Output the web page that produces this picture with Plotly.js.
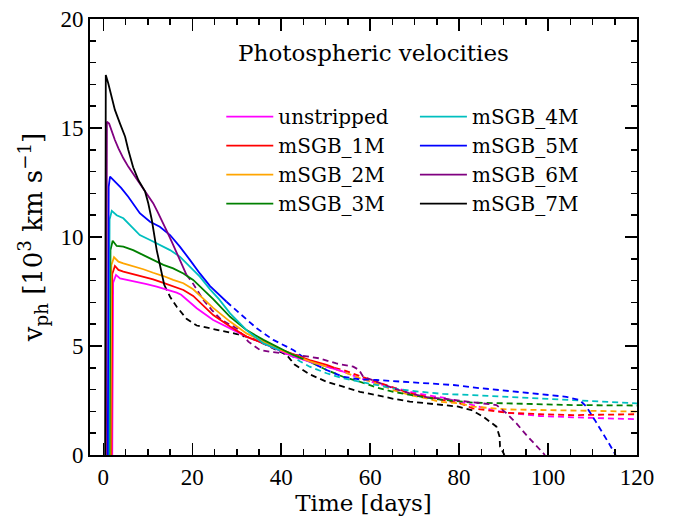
<!DOCTYPE html>
<html>
<head>
<meta charset="utf-8">
<script src="https://cdn.plot.ly/plotly-3.0.1.min.js"></script>
<style>html,body{margin:0;padding:0;background:#fff;}#chart{width:673px;height:521px;}</style>
</head>
<body>
<div id="chart"></div>
<script>
// Model names and colours
const names = ["unstripped","mSGB_1M","mSGB_2M","mSGB_3M","mSGB_4M","mSGB_5M","mSGB_6M","mSGB_7M"];
const colors = ["#ff00ff","#ff0000","#ffa500","#008000","#00bfbf","#0000ff","#800080","#000000"];

// Solid (photosphere) parts
const unstrippedX = [2.0,2.2,2.85,3.75,5.3,7.5,9.75,12.0,14.2,16.5,17.5,19.0,21.0,24.7,28.5,32.2,36.0,39.0,42.7,46.4,50.2,54.0];
const unstrippedY = [0,7.9,8.26,8.1,8.03,7.95,7.84,7.72,7.6,7.45,7.35,7.1,6.73,6.19,5.81,5.43,5.12,4.85,4.51,4.28,4.05,3.82];
const m1X = [1.8,2.0,2.6,3.4,4.5,6.7,9.0,11.2,13.5,15.7,18.0,20.2,22.5,24.7,28.5,32.2,36.0,39.0,42.7,46.4,50.2,52.0];
const m1Y = [0,8.3,8.67,8.49,8.41,8.3,8.18,8.06,7.9,7.75,7.57,7.3,6.85,6.42,5.89,5.43,5.12,4.89,4.6,4.35,4.13,4.0];
const m2X = [1.6,1.8,2.4,3.4,4.5,6.7,9.0,11.2,13.5,15.7,18.0,20.2,22.5,24.7,28.5,32.2,36.0,39.0,42.7,46.4,50.2];
const m2Y = [0,8.7,9.07,8.87,8.79,8.67,8.52,8.36,8.21,8.03,7.88,7.6,7.15,6.75,6.12,5.58,5.2,4.89,4.59,4.3,4.05];
const m3X = [1.4,1.6,2.1,3.0,4.5,6.7,9.0,11.2,13.5,15.7,18.0,20.2,22.5,24.7,28.5,32.2,36.0,39.0,42.7,45.0];
const m3Y = [0,9.4,9.83,9.59,9.56,9.4,9.17,8.94,8.72,8.56,8.33,8.03,7.6,7.15,6.34,5.73,5.28,4.97,4.59,4.4];
const m4X = [1.2,1.4,1.9,3.0,4.5,6.0,8.2,10.5,12.7,15.0,17.2,19.5,21.7,24.0,26.0,28.5,32.2,36.0,39.7];
const m4Y = [0,10.8,11.2,11.0,10.86,10.55,10.09,9.86,9.63,9.4,9.1,8.64,8.18,7.6,7.15,6.5,5.73,5.12,4.8];
const m5X = [1.0,1.2,1.5,2.6,4.0,5.6,7.1,8.2,10.5,12.7,15.0,17.2,19.5,21.7,24.0,27.7];
const m5Y = [0,12.3,12.77,12.54,12.25,11.85,11.39,11.09,10.7,10.47,10.09,9.56,8.94,8.33,7.75,7.03];
const m6X = [0.6,0.8,1.3,1.9,2.6,3.4,4.5,5.6,7.1,8.6,10.1,11.2,12.2,13.2,14.2,15.4,16.5,17.6,18.7];
const m6Y = [0,15.29,15.2,14.83,14.45,14.07,13.61,13.23,12.77,12.31,11.9,11.55,11.15,10.75,10.3,9.78,9.25,8.75,8.26];
const m7X = [0.4,0.55,1.1,1.9,2.6,3.75,4.9,5.6,6.7,7.9,9.4,10.1,10.9,12.0,13.1,13.7];
const m7Y = [0,17.43,17.05,16.44,15.83,15.2,14.6,14.0,13.2,12.6,12.08,11.55,10.78,9.4,8.33,7.8];

// Dashed (later) parts
const unstrippedDX = [54.0,57.7,61.4,65.2,68.9,72.7,76.4,83.1,87.6,90.7,98.1,105.6,113.1,120];
const unstrippedDY = [3.82,3.52,3.29,3.1,2.9,2.75,2.63,2.29,2.06,1.94,1.79,1.73,1.68,1.64];
const m1DX = [52.0,53.9,57.7,61.4,65.2,68.9,72.7,76.4,80.2,83.1,90.7,98.1,105.6,120];
const m1DY = [4.0,3.9,3.62,3.36,3.06,2.83,2.67,2.52,2.37,2.14,1.94,1.87,1.83,1.87];
const m2DX = [50.2,53.9,57.7,61.4,65.2,68.9,72.7,75.7,80.2,83.1,90.7,98.1,105.6,120];
const m2DY = [4.05,3.82,3.52,3.29,2.98,2.75,2.6,2.44,2.37,2.22,2.09,2.06,2.02,1.99];
const m3DX = [45.0,46.4,50.2,53.9,57.7,61.4,65.2,68.9,72.7,76.4,83.1,90.7,98.1,105.6,120];
const m3DY = [4.4,4.28,3.9,3.59,3.36,3.1,2.9,2.75,2.63,2.53,2.4,2.37,2.32,2.29,2.27];
const m4DX = [39.7,42.7,44.2,46.4,50.2,53.9,57.7,61.4,65.2,68.9,72.7,76.4,83.1,90.7,98.1,105.6,113.1,120];
const m4DY = [4.8,4.5,4.3,4.05,3.75,3.52,3.36,3.21,3.06,2.95,2.86,2.8,2.75,2.67,2.6,2.52,2.44,2.37];
const m5DX = [27.7,30.7,34.5,38.2,41.0,42.7,46.4,50.2,53.9,57.7,61.4,65.2,68.9,72.7,78.7,83.1,90.7,98.1,104.1,107.1,108.6,110.5,112.4,113.9,115.2];
const m5DY = [7.03,6.5,5.81,5.28,5.0,4.82,4.28,3.9,3.59,3.47,3.44,3.39,3.33,3.29,3.21,3.1,2.95,2.8,2.67,2.52,2.22,1.61,1.0,0.46,0];
const m6DX = [18.7,19.9,22.5,24.4,26.6,30.0,32.6,34.1,35.2,37.5,41.2,44.9,48.7,52.4,56.2,57.5,58.4,61.4,65.2,68.9,72.7,76.8,83.1,88.4,90.7,92.9,95.1,98.1,99.3];
const m6DY = [8.26,7.95,7.11,6.65,6.19,5.81,5.2,4.97,4.82,4.74,4.66,4.55,4.43,4.2,4.05,3.9,3.6,3.36,3.06,2.83,2.65,2.58,2.44,2.29,1.91,1.45,0.92,0.23,0];
const m7DX = [13.7,15.0,16.5,18.7,21.0,25.5,30.0,33.7,37.5,41.2,43.0,46.4,50.2,54.0,57.7,61.4,65.2,68.9,72.7,76.4,79.8,82.8,85.4,88.4,89.1,89.2,89.9,90.2];
const m7DY = [7.8,7.26,6.8,6.25,5.94,5.74,5.55,5.33,4.97,4.6,4.15,3.7,3.36,3.13,2.9,2.75,2.58,2.45,2.37,2.29,2.22,2.06,1.76,1.3,0.84,0.38,0.15,0];

const solidX = [unstrippedX,m1X,m2X,m3X,m4X,m5X,m6X,m7X];
const solidY = [unstrippedY,m1Y,m2Y,m3Y,m4Y,m5Y,m6Y,m7Y];
const dashX = [unstrippedDX,m1DX,m2DX,m3DX,m4DX,m5DX,m6DX,m7DX];
const dashY = [unstrippedDY,m1DY,m2DY,m3DY,m4DY,m5DY,m6DY,m7DY];

const FONT = "DejaVu Serif, serif";
const TICKFONT = "Liberation Serif, serif";
const traces = [];
for (let i = 0; i < names.length; i++) {
  traces.push({
    x: dashX[i], y: dashY[i], mode: 'lines', type: 'scatter',
    line: {color: colors[i], width: 1.8, dash: '6px,4px'},
    showlegend: false, hoverinfo: 'skip'
  });
}
for (let i = 0; i < names.length; i++) {
  traces.push({
    x: solidX[i], y: solidY[i], mode: 'lines', type: 'scatter', name: names[i],
    line: {color: colors[i], width: 1.8},
    legend: i < 4 ? 'legend' : 'legend2'
  });
}

const axisCommon = {
  showline: true, linewidth: 2, linecolor: '#000', mirror: 'ticks',
  ticks: 'inside', ticklen: 12, tickwidth: 1.5, tickcolor: '#000',
  showgrid: false, zeroline: false,
  tickfont: {family: TICKFONT, size: 23, color: '#000'}
};

const legendCommon = {xanchor: 'left', yanchor: 'top', bgcolor: 'rgba(0,0,0,0)',
  font: {family: FONT, size: 20, color: '#000'}, itemwidth: 47, tracegroupgap: 0};

const layout = {
  width: 673, height: 521,
  margin: {l: 90, r: 36, t: 19, b: 66},
  paper_bgcolor: '#fff', plot_bgcolor: '#fff',
  font: {family: FONT, color: '#000'},
  title: {text: 'Photospheric velocities', font: {family: FONT, size: 23, color: '#000'},
          x: 0.555, xanchor: 'center', y: 0.898, yanchor: 'middle'},
  xaxis: Object.assign({}, axisCommon, {
    range: [-3, 120], dtick: 20, tick0: 0,
    minor: {dtick: 5, ticks: 'inside', ticklen: 6, tickwidth: 1.5, tickcolor: '#000', showgrid: false},
    title: {text: 'Time [days]', font: {family: FONT, size: 23, color: '#000'}, standoff: 4}
  }),
  yaxis: Object.assign({}, axisCommon, {
    range: [0, 20], dtick: 5, tick0: 0,
    minor: {dtick: 1, ticks: 'inside', ticklen: 6, tickwidth: 1.5, tickcolor: '#000', showgrid: false},
    title: {text: 'v<sub>ph</sub> [10<sup>3</sup> km s<sup>\u22121</sup>]', font: {family: FONT, size: 26, color: '#000'}, standoff: 10}
  }),
  legend: Object.assign({}, legendCommon, {x: 0.24, y: 0.821}),
  legend2: Object.assign({}, legendCommon, {x: 0.594, y: 0.821})
};

Plotly.newPlot('chart', traces, layout, {staticPlot: true, displayModeBar: false});
</script>
</body>
</html>
